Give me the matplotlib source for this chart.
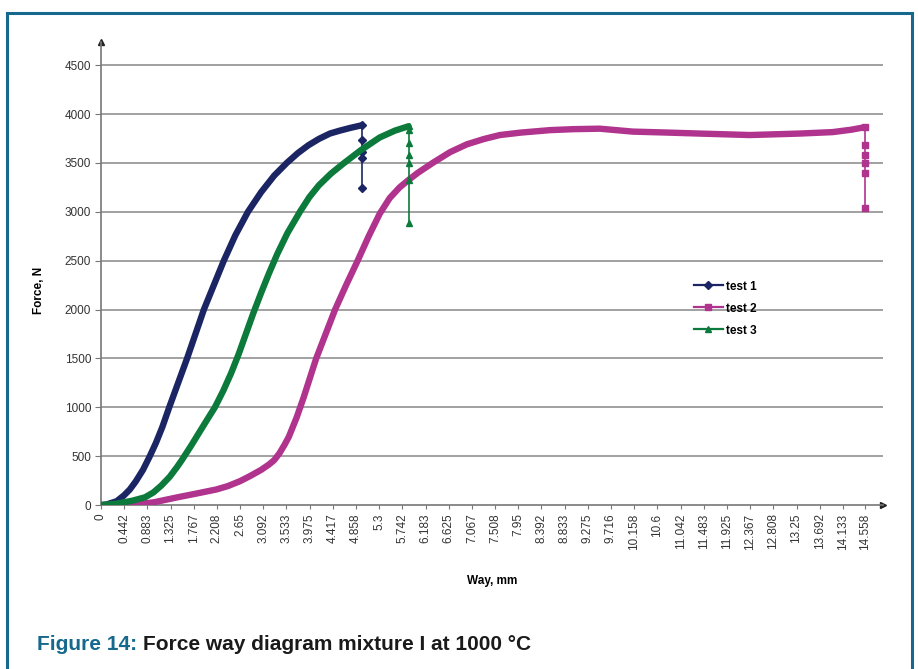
import matplotlib.pyplot as plt
from matplotlib.lines import Line2D

# test 1 (rise part, then the drop values at the last way position)
way_1 = [0, 0.1, 0.3, 0.44, 0.55, 0.66, 0.8, 0.93, 1.05, 1.17, 1.30, 1.47,
         1.64, 1.80, 1.96, 2.15, 2.34, 2.56, 2.80, 3.05, 3.30, 3.54, 3.75,
         3.95, 4.15, 4.36, 4.55, 4.75, 4.97]
force_1 = [0, 5, 40, 100, 160, 240, 360, 500, 640, 800, 1000, 1250,
           1500, 1750, 2000, 2250, 2500, 2760, 3000, 3200, 3370, 3500, 3600,
           3680, 3745, 3800, 3830, 3858, 3885]
drop_1 = [3885, 3730, 3610, 3550, 3240]

# test 2
way_2 = [0, 0.5, 0.88, 1.02, 1.46, 1.79, 2.2, 2.42, 2.65, 2.85, 3.05, 3.2,
         3.3, 3.4, 3.5, 3.58, 3.73, 3.86, 3.98, 4.10, 4.28, 4.46, 4.67,
         4.89, 5.1, 5.31, 5.5, 5.69, 5.87, 6.04, 6.32, 6.65, 6.97, 7.3, 7.6,
         8.0, 8.55, 9.0, 9.5, 10.13, 10.8, 11.4, 12.36, 13.0, 13.31, 13.94,
         14.3, 14.55]
force_2 = [0, 5, 20, 30, 80, 115, 160, 195, 245, 300, 360, 415,
           460, 530, 620, 700, 900, 1100, 1300, 1500, 1750, 2000, 2250,
           2500, 2750, 2980, 3140, 3250, 3330, 3400, 3500, 3610, 3690, 3745, 3785,
           3810, 3835, 3845, 3850, 3820, 3810, 3800, 3785, 3795, 3800, 3815,
           3840, 3865]
drop_2 = [3865, 3680, 3580, 3500, 3395, 3035]

# test 3
way_3 = [0, 0.3, 0.6, 0.84, 1.0, 1.15, 1.31, 1.45, 1.54, 1.72, 1.88, 2.03,
         2.17, 2.33, 2.48, 2.62, 2.76, 2.90, 3.05, 3.20, 3.36, 3.55, 3.79,
         3.97, 4.15, 4.38, 4.61, 4.95, 5.31, 5.60, 5.86]
force_3 = [0, 15, 45, 80, 130, 200, 290, 390, 460, 610, 750, 880,
           1000, 1170, 1350, 1540, 1750, 1960, 2170, 2370, 2570, 2780, 3000,
           3150, 3270, 3390, 3490, 3630, 3760, 3830, 3875]
drop_3 = [3875, 3835, 3700, 3580, 3500, 3320, 2885]

x_labels = ["0", "0.442", "0.883", "1.325", "1.767", "2.208", "2.65", "3.092",
            "3.533", "3.975", "4.417", "4.858", "5.3", "5.742", "6.183", "6.625",
            "7.067", "7.508", "7.95", "8.392", "8.833", "9.275", "9.716",
            "10.158", "10.6", "11.042", "11.483", "11.925", "12.367", "12.808",
            "13.25", "13.692", "14.133", "14.558"]
y_ticks = [0, 500, 1000, 1500, 2000, 2500, 3000, 3500, 4000, 4500]

series = [("test 1", way_1, force_1, drop_1, "#1c2563", "D"),
          ("test 2", way_2, force_2, drop_2, "#b0338e", "s"),
          ("test 3", way_3, force_3, drop_3, "#0b7a3b", "^")]

plt.rcParams["font.family"] = ["Liberation Sans Narrow", "Liberation Sans", "DejaVu Sans"]

fig = plt.figure(figsize=(9.18, 6.69), dpi=100)
ax = fig.add_axes([0.110, 0.245, 0.852, 0.692])

for y in y_ticks[1:]:
    ax.axhline(y, color="#9a9a9a", lw=1.3, zorder=1)

handles = []
for name, way, force, drop, color, marker in series:
    ax.plot(way, force, color=color, lw=4.6, solid_capstyle="round",
            solid_joinstyle="round", zorder=3)
    ax.plot([way[-1]] * len(drop), drop, color=color, lw=1.2, marker=marker,
            ms=4, zorder=3)
    handles.append(Line2D([], [], color=color, lw=1.6, marker=marker, ms=4.5))

ax.set_xlim(0, 14.90)
ax.set_ylim(0, 4735)
ax.set_xticks([float(s) for s in x_labels])
ax.set_xticklabels(x_labels, rotation=90, fontsize=8.5, color="#333333")
ax.set_yticks(y_ticks)
ax.set_yticklabels([str(v) for v in y_ticks], fontsize=8.5, color="#333333")
ax.tick_params(axis="x", length=3, width=0.8, color="#777777", pad=3)
ax.tick_params(axis="y", length=4, width=0.8, color="#777777", pad=3)

for side in ["top", "right"]:
    ax.spines[side].set_visible(False)
for side in ["left", "bottom"]:
    ax.spines[side].set_color("#777777")
    ax.spines[side].set_linewidth(1.2)
ax.plot(1, 0, ">", color="#222222", ms=4, transform=ax.transAxes, clip_on=False)
ax.plot(0, 1, "^", color="#222222", ms=4, transform=ax.transAxes, clip_on=False)

ax.set_xlabel("Way, mm", fontsize=8.5, fontweight="bold", labelpad=18)
ax.set_ylabel("Force, N", fontsize=8.5, fontweight="bold")
ax.yaxis.set_label_coords(-0.072, 0.464)

ax.legend(handles, [s[0] for s in series], loc="upper left",
          bbox_to_anchor=(0.745, 0.508), frameon=False,
          handlelength=2.4, handletextpad=0.3, labelspacing=0.85,
          prop={"weight": "bold", "size": 8.5})

# frame of the scanned figure
border = "#16698c"
fig.add_artist(Line2D([7 / 918, 7 / 918], [0, 1 - 13 / 669], color=border, lw=2.2))
fig.add_artist(Line2D([7 / 918, 912 / 918], [1 - 13 / 669, 1 - 13 / 669], color=border, lw=2.2))
fig.add_artist(Line2D([912 / 918, 912 / 918], [0, 1 - 13 / 669], color=border, lw=2.2))

t = fig.text(37 / 918, 1 - 645 / 669, "Figure 14:", color=border, fontsize=15,
             fontweight="bold", va="center")
fig.canvas.draw()
bb = t.get_window_extent()
fig.text(bb.x1 / 918 + 0.006, 1 - 645 / 669,
         "Force way diagram mixture I at 1000 °C", color="#1a1a1a",
         fontsize=15, fontweight="bold", va="center")

fig.savefig("out.png", dpi=100)
